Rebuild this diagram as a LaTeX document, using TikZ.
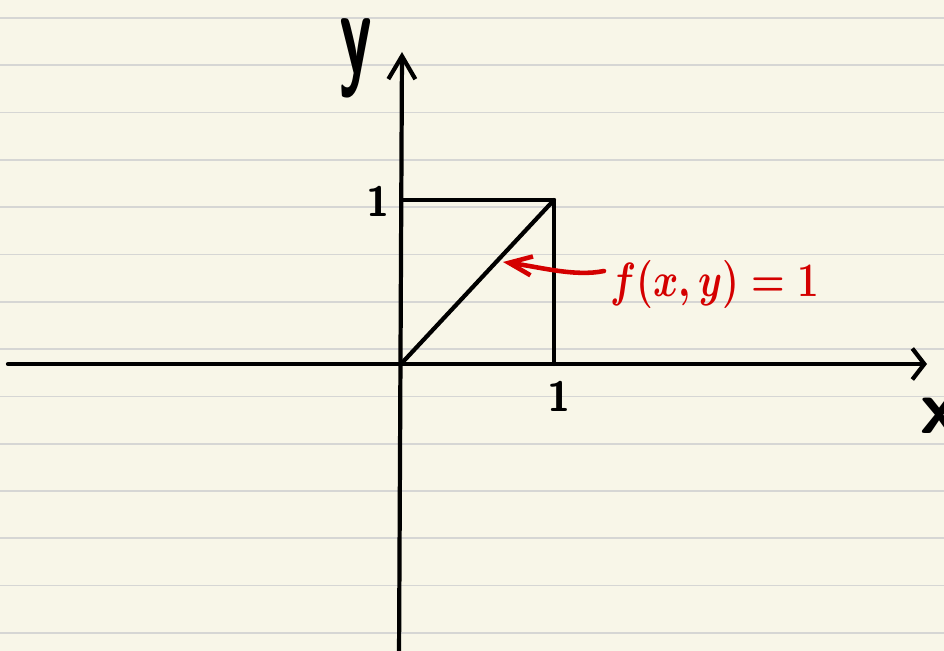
\documentclass[tikz,border=0pt]{standalone}
\usepackage{tikz}
\usetikzlibrary{arrows.meta, positioning, calc}
\definecolor{noteGround}{RGB}{248,246,232}
\definecolor{noteRule}{RGB}{214,214,212}
\definecolor{noteInk}{RGB}{0,0,0}
\definecolor{noteRed}{RGB}{212,0,0}
\tikzset{
  % pen strokes; the colour is given by one of the styles below
  ink/.style={draw=noteInk, line width=2.4pt, line cap=round, line join=round},
  redink/.style={draw=noteRed, line width=2.6pt, line cap=round, line join=round},
  % the ruled lines of the paper
  rule/.style={draw=noteRule, line width=1pt},
  % arrows
  yaxis/.style={ink, -{Straight Barb[length=4.6mm,width=5.4mm]}},
  xaxis/.style={ink, -{Straight Barb[length=2.4mm,width=6.2mm]}},
  pointer/.style={redink, -{Straight Barb[length=4.6mm,width=3.8mm]}},
  % handwritten labels
  axisname/.style={font=\fontsize{44}{44}\selectfont\sffamily\bfseries, text=noteInk, inner sep=0pt},
  tick/.style={font=\fontsize{24}{24}\selectfont\sffamily\bfseries, text=noteInk, inner sep=0pt},
  note/.style={font=\fontsize{24.88}{26}\selectfont\boldmath, text=noteRed, inner sep=0pt},
}
\begin{document}
\begin{tikzpicture}[x=0.02cm, y=-0.02cm]

% ------------------------------- the paper ---------------------------------
\fill[noteGround] (0,0) rectangle (944,651);
\useasboundingbox (0,0) rectangle (944,651);
\clip (0,0) rectangle (944,651);
\foreach \k in {0,...,13}
  \draw[rule] (0,18+47.3*\k) -- (944,18+47.3*\k);

% ------------------------------- key points --------------------------------
\coordinate (O)      at (401,364);
\coordinate (xl)     at (8,364);
\coordinate (xr)     at (927,364);
\coordinate (yb)     at (399,660);
\coordinate (yt)     at (402,52);
\coordinate (corner) at (554,200);
\coordinate (onex)   at (554,364);
\coordinate (oney)   at (402,200);
\coordinate (hit)    at (503,262);

% ------------------------------- axes --------------------------------------
\draw[xaxis] (xl) -- (xr);
\draw[yaxis] (yb) -- (yt);

% ------------------------------- unit square and diagonal ------------------
\draw[ink] (oney) -- (corner) -- (onex);
\draw[ink] (O) -- (corner);

% ------------------------------- labels ------------------------------------
\node[axisname, anchor=base] (ylab) at (356,74) {\scalebox{0.85}[1.55]{y}};
\node[axisname] (xlab) at (940,416) {x};
\node[tick] (ty) at (378,201) {1};
\node[tick] (tx) at (559,396) {1};

\node[note, anchor=west] (fxy) at (610,284) {\scalebox{0.88}[1.1]{$f(x,y)=1$}};
\coordinate (tail) at ($(fxy.west)+(-6,-13)$);
\draw[pointer] (tail) .. controls (575,277) and (540,267) .. (hit);

\end{tikzpicture}
\end{document}
